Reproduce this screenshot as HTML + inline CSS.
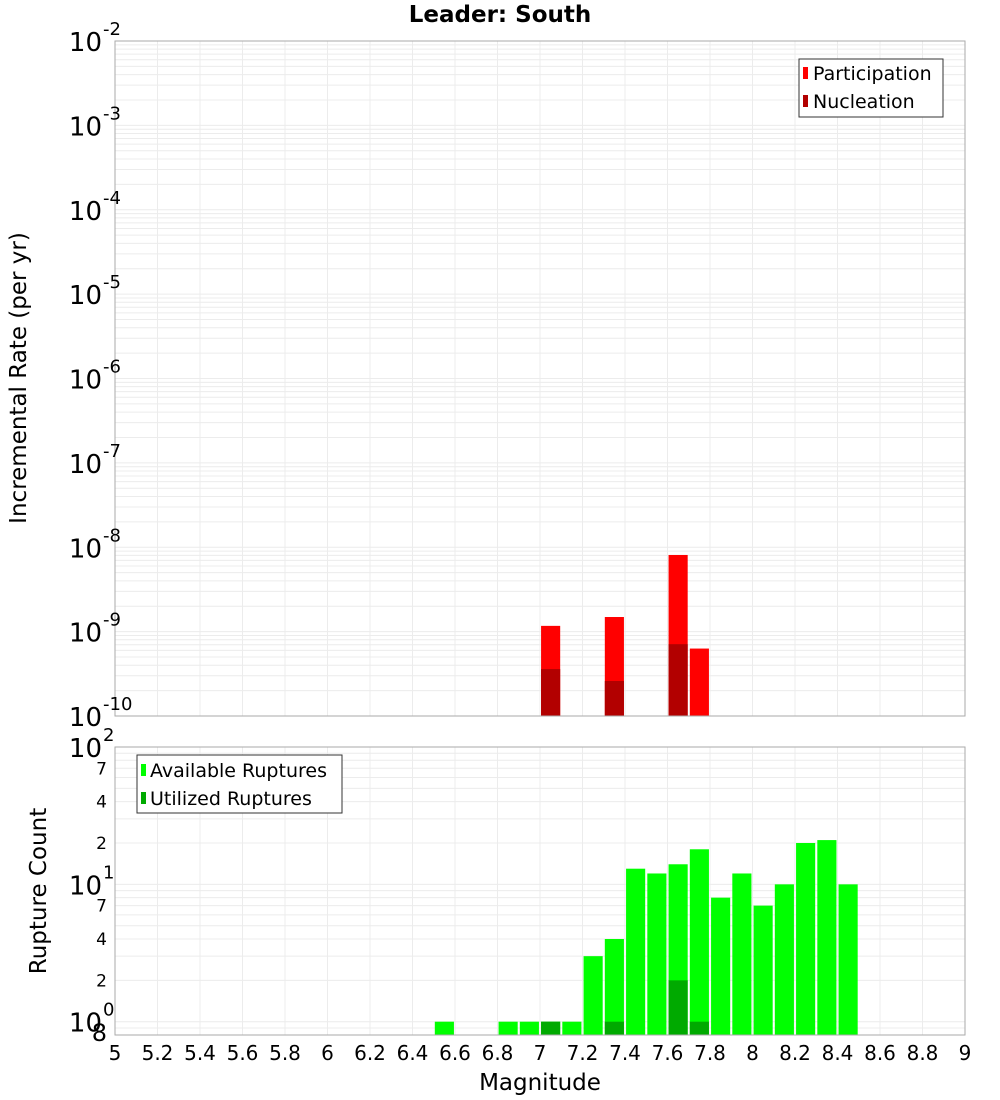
<!DOCTYPE html>
<html><head><meta charset="utf-8"><style>
body{margin:0;background:#fff;}
svg{display:block;font-family:"DejaVu Sans","Liberation Sans",sans-serif;}
</style></head><body>
<svg id="c" width="1000" height="1100" xmlns="http://www.w3.org/2000/svg">
<text x="500" y="22" text-anchor="middle" font-size="23" font-weight="bold">Leader: South</text>
<text transform="translate(26,378) rotate(-90)" text-anchor="middle" font-size="23">Incremental Rate (per yr)</text>
<text transform="translate(46,891) rotate(-90)" text-anchor="middle" font-size="23">Rupture Count</text>
<text x="540" y="1090" text-anchor="middle" font-size="23">Magnitude</text>
<g id="g"></g>
<rect x="799" y="59" width="144" height="58" fill="#fff" stroke="#333"/>
<rect x="803" y="67" width="5" height="12" fill="#ff0000"/>
<text x="813" y="80" font-size="19">Participation</text>
<rect x="803" y="95" width="5" height="12" fill="#b20000"/>
<text x="813" y="108" font-size="19">Nucleation</text>
<rect x="137" y="755" width="205" height="58" fill="#fff" stroke="#333"/>
<rect x="141" y="764" width="5" height="12" fill="#00ff00"/>
<text x="150" y="777" font-size="19">Available Ruptures</text>
<rect x="141" y="792" width="5" height="12" fill="#00aa00"/>
<text x="150" y="805" font-size="19">Utilized Ruptures</text>
</svg>
<script>
const rateMags=[7.05,7.35,7.65,7.75];
const participation=[1.17e-9,1.49e-9,8.1e-9,6.3e-10];
const nucleation=[3.6e-10,2.6e-10,7.1e-10,0];
const countMags=[6.55,6.85,6.95,7.05,7.15,7.25,7.35,7.45,7.55,7.65,7.75,7.85,7.95,8.05,8.15,8.25,8.35,8.45];
const available=[1,1,1,1,1,3,4,13,12,14,18,8,12,7,10,20,21,10];
const utilized=[0,0,0,1,0,0,1,0,0,2,1,0,0,0,0,0,0,0];
const xTicks=["5","5.2","5.4","5.6","5.8","6","6.2","6.4","6.6","6.8","7","7.2","7.4","7.6","7.8","8","8.2","8.4","8.6","8.8","9"];

const NS="http://www.w3.org/2000/svg";
const g=document.getElementById('g');
function mk(t,a){const e=document.createElementNS(NS,t);for(const k in a)e.setAttribute(k,a[k]);g.appendChild(e);return e;}
const X0=115,X1=965;
const x=m=>X0+(m-5)/(4)*(X1-X0);
const T0=41,T1=716; const yT=v=>T1-(Math.log10(v)+10)/8*(T1-T0);
const B0=747,B1=1035; const bMin=Math.log10(0.8),bMax=2;
const yB=v=>B1-(Math.log10(v)-bMin)/(bMax-bMin)*(B1-B0);

for(let i=0;i<=20;i++){const xx=x(5+i*0.2);
 let l=mk('line',{x1:xx,x2:xx,y1:T0,y2:T1,stroke:'#ececec'});
 l=mk('line',{x1:xx,x2:xx,y1:B0,y2:B1,stroke:'#ececec'});}
for(let d=-10;d<-2;d++)for(let k=1;k<10;k++){const yy=yT(k*Math.pow(10,d));
 const l=mk('line',{x1:X0,x2:X1,y1:yy,y2:yy,stroke:'#ececec'});}
for(let d=-1;d<2;d++)for(let k=1;k<10;k++){const v=k*Math.pow(10,d);if(v<0.8)continue;const yy=yB(v);
 const l=mk('line',{x1:X0,x2:X1,y1:yy,y2:yy,stroke:'#ececec'});}

const bw=0.09*(X1-X0)/4;
rateMags.forEach((m,i)=>{
 let r=mk('rect',{x:x(m)-bw/2,y:yT(participation[i]),width:bw,height:T1-yT(participation[i]),fill:'#ff0000'});
 
 if(nucleation[i]>0){r=mk('rect',{x:x(m)-bw/2,y:yT(nucleation[i]),width:bw,height:T1-yT(nucleation[i]),fill:'#b20000'});
 }
});
countMags.forEach((m,i)=>{
 let r=mk('rect',{x:x(m)-bw/2,y:yB(available[i]),width:bw,height:B1-yB(available[i]),fill:'#00ff00'});
 
 if(utilized[i]>0){r=mk('rect',{x:x(m)-bw/2,y:yB(utilized[i]),width:bw,height:B1-yB(utilized[i]),fill:'#00aa00'});
 }
});

let f=mk('rect',{x:X0,y:T0,width:X1-X0,height:T1-T0,fill:'none',stroke:'#aaa'});
f=mk('rect',{x:X0,y:B0,width:X1-X0,height:B1-B0,fill:'none',stroke:'#aaa'});

function powLabel(yy,exp,name){
 const t=mk('text',{x:102,y:yy+10,'text-anchor':'end','font-size':26});t.textContent='10';
 
 const s=mk('text',{x:103,y:yy-6,'font-size':18});s.textContent=exp;
 
}
for(let d=-10;d<=-2;d++)powLabel(yT(Math.pow(10,d)),String(d),'top-y-tick-label');
[0,1,2].forEach(d=>powLabel(yB(Math.pow(10,d)),String(d),'bottom-y-tick-label'));
[[2,'2'],[4,'4'],[7,'7'],[20,'2'],[40,'4'],[70,'7'],[0.8,'8']].forEach(([v,s])=>{
 const t=mk('text',{x:107,y:yB(v)+6,'text-anchor':'end','font-size':v===0.8?24:17});t.textContent=s;
 });
xTicks.forEach(s=>{const t=mk('text',{x:x(parseFloat(s)),y:1060,'text-anchor':'middle','font-size':20});t.textContent=s;
 });
</script>
</body></html>
